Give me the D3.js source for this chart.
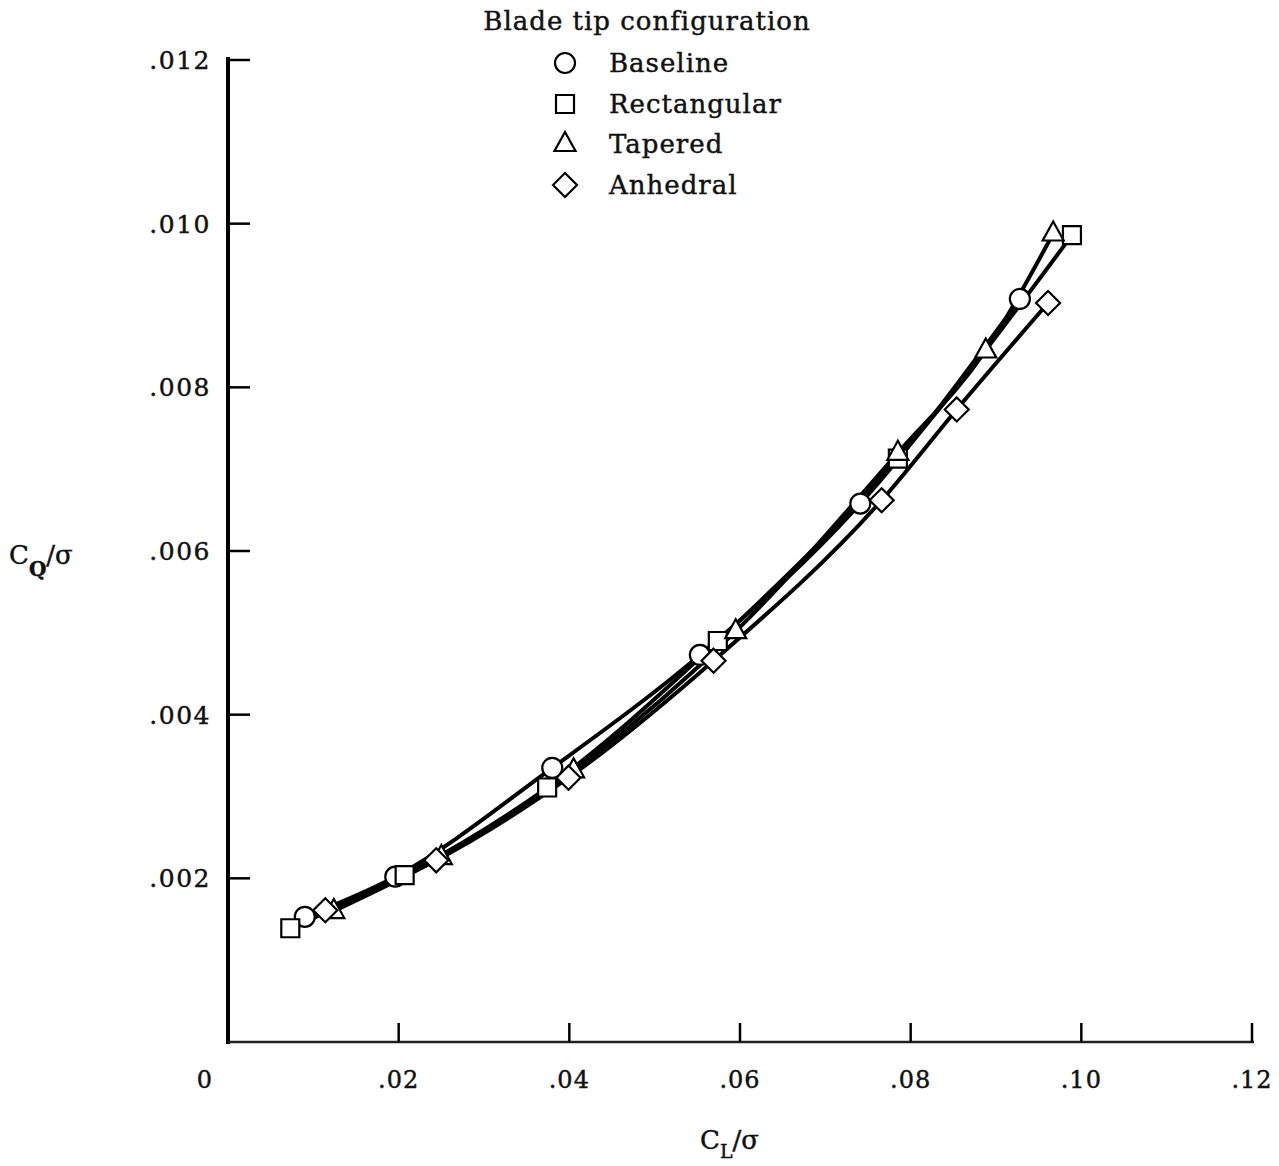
<!DOCTYPE html>
<html>
<head>
<meta charset="utf-8">
<script src="https://cdn.jsdelivr.net/npm/d3@7"></script>
<style>
  html, body { margin: 0; padding: 0; background: #fff; }
  svg { display: block; }
  text { font-family: "DejaVu Serif", "Liberation Serif", serif; fill: #111; stroke: #111; stroke-width: 0.45; }
</style>
</head>
<body>
<svg id="chart" width="1279" height="1166"></svg>
<script>
// ---- data ----
const xTicks = [0, 0.02, 0.04, 0.06, 0.08, 0.10, 0.12];
const xTickLabels = ["0", ".02", ".04", ".06", ".08", ".10", ".12"];
const yTicks = [0.002, 0.004, 0.006, 0.008, 0.010, 0.012];
const yTickLabels = [".002", ".004", ".006", ".008", ".010", ".012"];

const seriesNames = ["Baseline", "Rectangular", "Tapered", "Anhedral"];
const seriesShapes = ["circle", "square", "triangle", "diamond"];

const baselineCL = [0.0090, 0.0196, 0.0380, 0.0553, 0.0741, 0.0928];
const baselineCQ = [0.00153, 0.00202, 0.00335, 0.00473, 0.00658, 0.00908];

const rectCL = [0.0073, 0.0207, 0.0374, 0.0574, 0.0785, 0.0989];
const rectCQ = [0.00139, 0.00204, 0.00311, 0.00490, 0.00713, 0.00986];

const taperCL = [0.0124, 0.0250, 0.0405, 0.0595, 0.0785, 0.0888, 0.0967];
const taperCQ = [0.00160, 0.00226, 0.00332, 0.00502, 0.00720, 0.00845, 0.00988];

const anhedCL = [0.0114, 0.0244, 0.0399, 0.0569, 0.0766, 0.0854, 0.0961];
const anhedCQ = [0.00161, 0.00222, 0.00323, 0.00466, 0.00662, 0.00773, 0.00903];

const legendTitle = "Blade tip configuration";
const xTitle = "C", xSub = "L", yTitle = "C", ySub = "Q";

// ---- chart ----
const svg = d3.select("#chart");
const x = d3.scaleLinear().domain([0, 0.12]).range([228, 1252]);
const y = d3.scaleLinear().domain([0, 0.012]).range([1042, 60]);

const series = [
  {name: seriesNames[0], shape: seriesShapes[0], pts: baselineCL.map((v, i) => [v, baselineCQ[i]])},
  {name: seriesNames[1], shape: seriesShapes[1], pts: rectCL.map((v, i) => [v, rectCQ[i]])},
  {name: seriesNames[2], shape: seriesShapes[2], pts: taperCL.map((v, i) => [v, taperCQ[i]])},
  {name: seriesNames[3], shape: seriesShapes[3], pts: anhedCL.map((v, i) => [v, anhedCQ[i]])}
];

function shapePath(shape, cx, cy) {
  const p = d3.path();
  if (shape === "circle") {
    p.moveTo(cx + 10, cy); p.arc(cx, cy, 10, 0, 2 * Math.PI);
  } else if (shape === "square") {
    p.rect(cx - 9, cy - 9, 18, 18);
  } else if (shape === "triangle") {
    p.moveTo(cx, cy - 12); p.lineTo(cx + 10.5, cy + 7); p.lineTo(cx - 10.5, cy + 7); p.closePath();
  } else {
    p.moveTo(cx, cy - 12); p.lineTo(cx + 12, cy); p.lineTo(cx, cy + 12); p.lineTo(cx - 12, cy); p.closePath();
  }
  return p.toString();
}

// axes
const g = svg.append("g");
g.append("line").attr("x1", x(0)).attr("x2", x(0)).attr("y1", y(0.012) - 3).attr("y2", y(0) + 2)
  .attr("stroke", "#000").attr("stroke-width", 4);
g.append("line").attr("x1", x(0)).attr("x2", x(0.12) + 2).attr("y1", y(0)).attr("y2", y(0))
  .attr("stroke", "#222").attr("stroke-width", 2.5);

// y ticks (inward)
g.selectAll(".yt").data(yTicks).enter().append("line")
  .attr("x1", x(0)).attr("x2", x(0) + 22)
  .attr("y1", d => y(d)).attr("y2", d => y(d))
  .attr("stroke", "#000").attr("stroke-width", 2.5);
g.selectAll(".yl").data(yTicks).enter().append("text")
  .attr("x", 211).attr("y", d => y(d) + 9)
  .attr("text-anchor", "end").attr("font-size", 25).attr("letter-spacing", 1.5)
  .text((d, i) => yTickLabels[i]);

// x ticks (upward)
g.selectAll(".xt").data(xTicks.slice(1)).enter().append("line")
  .attr("x1", d => x(d)).attr("x2", d => x(d))
  .attr("y1", y(0)).attr("y2", y(0) - 19)
  .attr("stroke", "#000").attr("stroke-width", 2.5);
g.selectAll(".xl").data(xTicks).enter().append("text")
  .attr("x", (d, i) => i === 0 ? 205 : x(d))
  .attr("y", 1088)
  .attr("text-anchor", "middle").attr("font-size", 24).attr("letter-spacing", 1)
  .text((d, i) => xTickLabels[i]);

// axis titles
const xt = g.append("text").attr("x", 700).attr("y", 1149).attr("font-size", 26);
xt.append("tspan").text(xTitle);
xt.append("tspan").attr("font-size", 19).attr("dy", 9).text(xSub);
xt.append("tspan").attr("dy", -9).text("/σ");

const yt = g.append("text").attr("x", 9).attr("y", 564).attr("font-size", 26);
yt.append("tspan").text(yTitle);
yt.append("tspan").attr("font-size", 20).attr("font-weight", "bold").attr("dy", 12).text(ySub);
yt.append("tspan").attr("dy", -12).text("/σ");

// curves
const line = d3.line().x(d => x(d[0])).y(d => y(d[1])).curve(d3.curveMonotoneX);
svg.append("g").selectAll("path").data(series).enter().append("path")
  .attr("d", s => line(s.pts))
  .attr("fill", "none").attr("stroke", "#000").attr("stroke-width", 4);

// markers
series.forEach(s => {
  svg.append("g").selectAll("path").data(s.pts).enter().append("path")
    .attr("d", d => shapePath(s.shape, x(d[0]), y(d[1])))
    .attr("fill", "#fff").attr("stroke", "#000").attr("stroke-width", 2.2);
});

// legend
const lg = svg.append("g");
lg.append("text").attr("x", 647).attr("y", 30).attr("text-anchor", "middle")
  .attr("font-size", 26).attr("letter-spacing", 1).text(legendTitle);
const rowY = [63, 104, 144, 185];
series.forEach((s, i) => {
  lg.append("path").attr("d", shapePath(s.shape, 565, rowY[i]))
    .attr("fill", "#fff").attr("stroke", "#000").attr("stroke-width", 2.2);
  lg.append("text").attr("x", 609).attr("y", rowY[i] + 9).attr("font-size", 26)
    .attr("letter-spacing", 1).text(s.name);
});
</script>
</body>
</html>
